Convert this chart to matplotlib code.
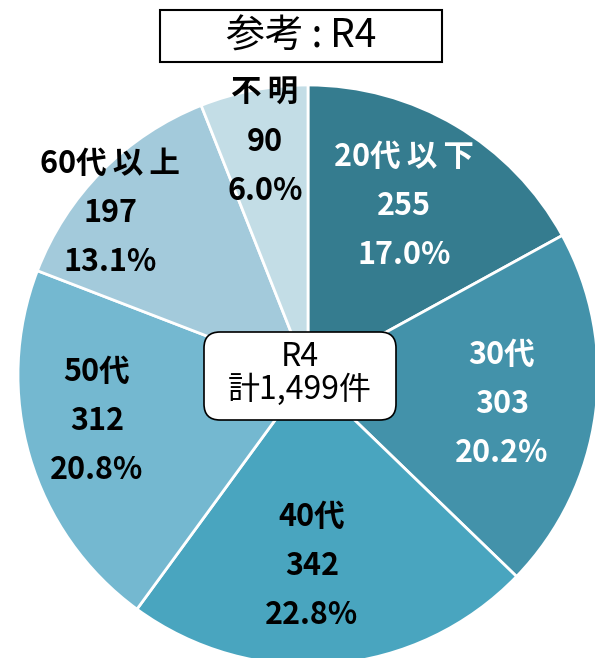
import matplotlib
matplotlib.use("Agg")
import matplotlib.pyplot as plt
from matplotlib.patches import FancyBboxPatch, Rectangle
import numpy as np

plt.rcParams['font.family'] = ['Noto Sans CJK JP', 'DejaVu Sans']

categories = ["20代以下", "30代", "40代", "50代", "60代以上", "不明"]
counts = [255, 303, 342, 312, 197, 90]
percents = ["17.0%", "20.2%", "22.8%", "20.8%", "13.1%", "6.0%"]
colors = ["#357C8F", "#4392AA", "#49A5BF", "#74B8D0", "#A3CADB", "#C3DDE6"]
text_colors = ["white", "white", "black", "black", "black", "black"]
title = "参考:R4"
center_lines = ["R4", "計1,499件"]

# label block offsets from pie centre (pixels, y down)
label_offsets = [(96, -169), (194, 29), (4, 191), (-211, 46), (-198, -162), (-43, -233)]

TS = "\u2009"


def spaced(s):
    out = ""
    for i, ch in enumerate(s):
        out += ch
        if i < len(s) - 1 and ord(ch) > 0x2E80 and ord(s[i + 1]) > 0x2E80:
            out += TS
    return out


W, H = 595, 658
fig = plt.figure(figsize=(W / 100, H / 100), dpi=100)
ax = fig.add_axes([0, 0, 1, 1])

cx, cy, R = 308, H - 375, 290
wedges, _ = ax.pie(counts, startangle=90, counterclock=False, colors=colors,
                   center=(cx, cy), radius=R,
                   wedgeprops=dict(edgecolor="white", linewidth=2))
ax.set_aspect('auto')
ax.set_xlim(0, W)
ax.set_ylim(0, H)
ax.axis('off')

line_gap = 49
for cat, n, p, tc, (dx, dy) in zip(categories, counts, percents, text_colors, label_offsets):
    x = cx + dx
    y = cy - dy
    for k, s in enumerate([spaced(cat), str(n), p]):
        ax.text(x, y + (1 - k) * line_gap, s, ha='center', va='center',
                fontsize=22, fontweight='bold', color=tc)

# title box
ax.add_patch(Rectangle((160, H - 62), 282, 52, facecolor='white',
                       edgecolor='black', linewidth=1.5, zorder=5))
ax.text(301, H - 37, "参考" + TS + ":" + TS + "R4", ha='center', va='center',
        fontsize=28, zorder=6)

# center box
ax.add_patch(FancyBboxPatch((210, H - 414), 180, 76,
                            boxstyle="round,pad=6,rounding_size=16",
                            facecolor='white', edgecolor='black', linewidth=1.2, zorder=5))
ax.text(300, H - 357, center_lines[0], ha='center', va='center', fontsize=23, zorder=6)
ax.text(300, H - 390, center_lines[1], ha='center', va='center', fontsize=23, zorder=6)

fig.savefig("out.png", dpi=100)
